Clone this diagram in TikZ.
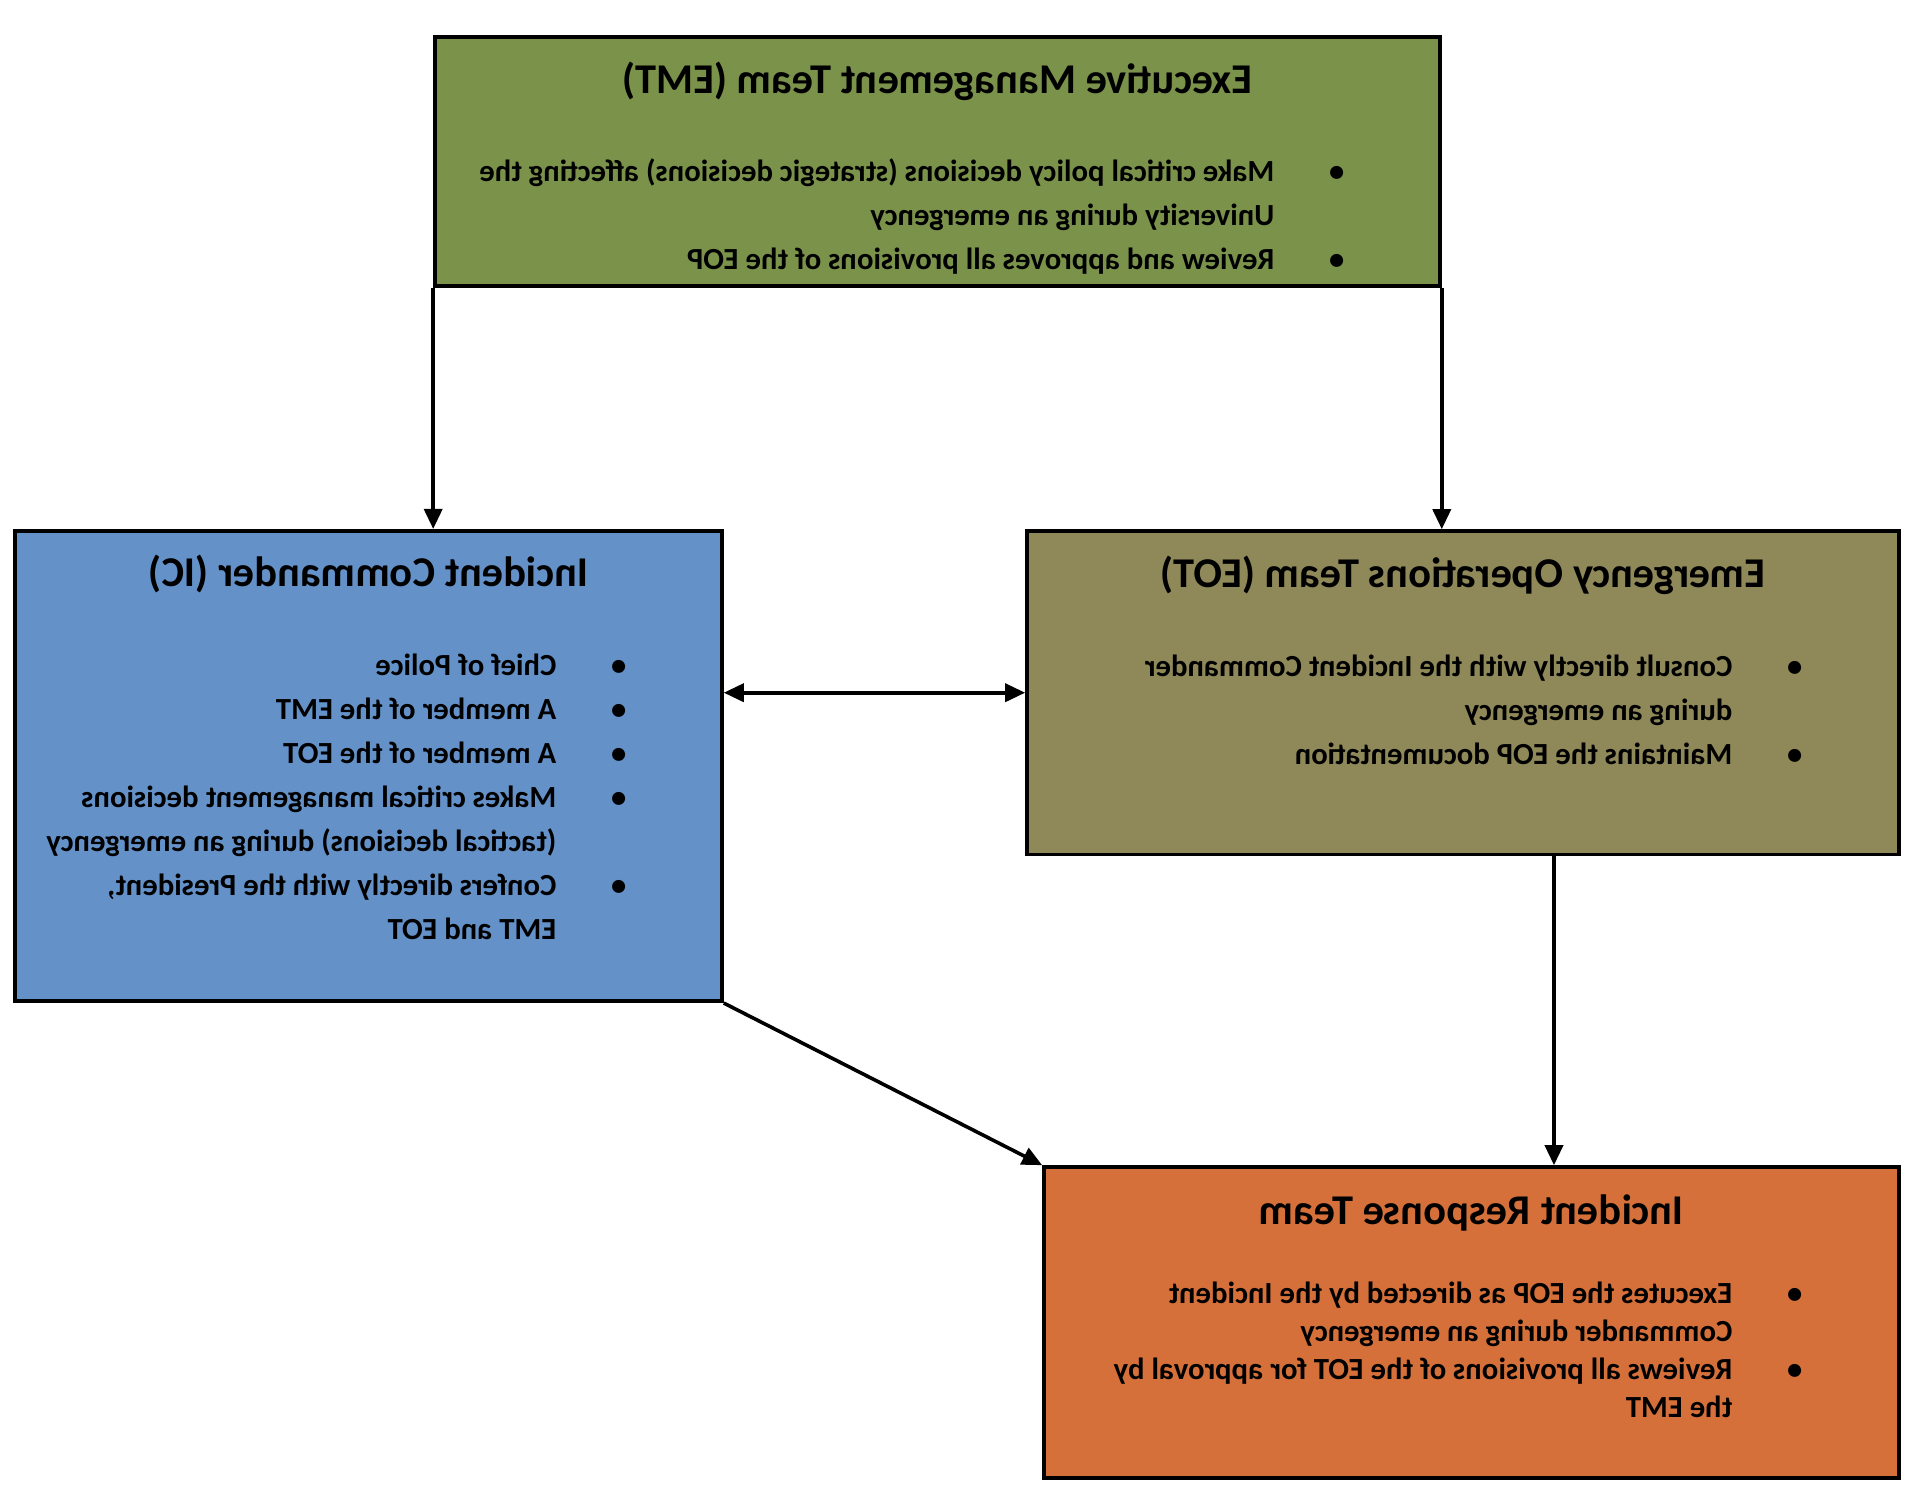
\documentclass[tikz,border=0pt]{standalone}
\usepackage{fontspec}
\setmainfont{Carlito}
\usetikzlibrary{positioning, arrows.meta, calc}

\definecolor{emtgreen}{RGB}{123,146,75}
\definecolor{icblue}{RGB}{99,145,200}
\definecolor{eotkhaki}{RGB}{143,136,88}
\definecolor{irtorange}{RGB}{213,112,58}

\newcommand{\bulletlist}[1]{%
  \renewcommand{\arraystretch}{1}%
  \begin{tabular}[t]{@{}p{35pt}@{}l@{}}#1\end{tabular}}

\begin{document}
\begin{tikzpicture}[
    x=0.5pt, y=-0.5pt, xscale=-1, transform shape,
    >={Triangle[width=9pt, length=10pt]},
    team/.style={draw, line width=1.8pt, inner sep=0pt},
    heading/.style={anchor=base, inner sep=0pt,
                    font=\fontsize{21.2}{25}\selectfont\bfseries},
    duties/.style={anchor=base west, inner sep=0pt, align=left,
                   font=\fontsize{15.35}{22}\selectfont\bfseries},
    arr/.style={->, line width=1.8pt},
]
\useasboundingbox (0,0) rectangle (1922,1500);

% ── team boxes ───────────────────────────────────────────────────────────────
\node[team, fill=emtgreen, minimum width=502.5pt, minimum height=124.5pt]
    (emt) at (984.5,161.5) {};
\node[team, fill=icblue, minimum width=353.5pt, minimum height=235.25pt]
    (ic) at (1553.5,766) {};
\node[team, fill=eotkhaki, minimum width=436pt, minimum height=161.7pt]
    (eot) at (459,692.7) {};
\node[team, fill=irtorange, minimum width=427.5pt, minimum height=155.5pt]
    (irt) at (450.5,1322.5) {};

% ── headings ─────────────────────────────────────────────────────────────────
\node[heading] (emt-title) at ($(emt.north)+(0,58)$) {Executive Management Team (EMT)};
\node[heading] (ic-title)  at ($(ic.north)+(0,58)$)  {Incident Commander (IC)};
\node[heading] (eot-title) at ($(eot.north)+(0,58)$) {Emergency Operations Team (EOT)};
\node[heading] (irt-title) at ($(irt.north)+(0,59)$) {Incident Response Team};

% ── duties ───────────────────────────────────────────────────────────────────
\node[duties] (emt-list) at ($(emt.north west)+(97,146)$)
    {\bulletlist{\textbullet & Make critical policy decisions (strategic decisions) affecting the\\
                 & University during an emergency\\
                 \textbullet & Review and approves all provisions of the EOP}};
\node[duties] (ic-list) at ($(ic.north west)+(97,147)$)
    {\bulletlist{\textbullet & Chief of Police\\
                 \textbullet & A member of the EMT\\
                 \textbullet & A member of the EOT\\
                 \textbullet & Makes critical management decisions\\
                 & (tactical decisions) during an emergency\\
                 \textbullet & Confers directly with the President,\\
                 & EMT and EOT}};
\node[duties] (eot-list) at ($(eot.north west)+(98,147)$)
    {\bulletlist{\textbullet & Consult directly with the Incident Commander\\
                 & during an emergency\\
                 \textbullet & Maintains the EOP documentation}};
\node[duties, font=\fontsize{15.35}{19}\selectfont\bfseries] (irt-list)
    at ($(irt.north west)+(98,138)$)
    {\bulletlist{\textbullet & Executes the EOP as directed by the Incident\\
                 & Commander during an emergency\\
                 \textbullet & Reviews all provisions of the EOT for approval by\\
                 & the EMT}};

% ── edges ────────────────────────────────────────────────────────────────────
\coordinate (eot-drop) at ($(eot.south)+(-91,0)$);
\draw[arr] (emt.south east) -- (emt.south east |- ic.north);
\draw[arr] (emt.south west) -- (emt.south west |- eot.north);
\draw[arr, <->] (eot.east) -- (eot.east -| ic.west);
\draw[arr] (eot-drop) -- (eot-drop |- irt.north);
\draw[arr] (ic.south west) -- (irt.north east);

\end{tikzpicture}
\end{document}
